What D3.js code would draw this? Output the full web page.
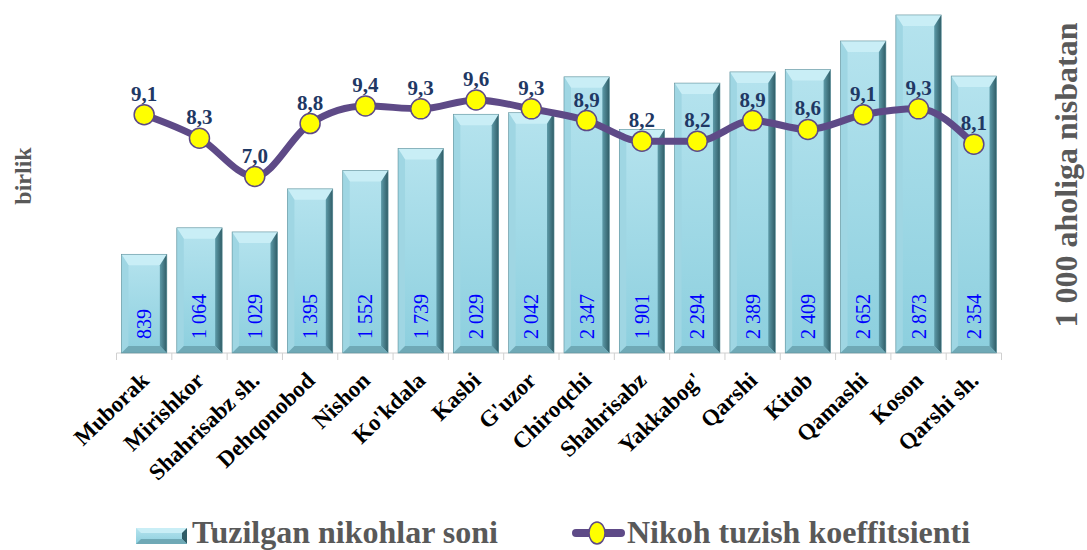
<!DOCTYPE html>
<html><head><meta charset="utf-8">
<script src="https://cdn.jsdelivr.net/npm/d3@7"></script>
<style>body{margin:0;background:#fff}svg{display:block}</style>
</head><body><svg id="c" width="1087" height="550" style="font-family:'Liberation Serif'"></svg>
<script>
const categories=["Muborak","Mirishkor","Shahrisabz sh.","Dehqonobod","Nishon","Ko'kdala","Kasbi","G'uzor","Chiroqchi","Shahrisabz","Yakkabog'","Qarshi","Kitob","Qamashi","Koson","Qarshi sh."];
const marriages=[839,1064,1029,1395,1552,1739,2029,2042,2347,1901,2294,2389,2409,2652,2873,2354];
const coefficient=[9.1,8.3,7.0,8.8,9.4,9.3,9.6,9.3,8.9,8.2,8.2,8.9,8.6,9.1,9.3,8.1];
const seriesNames=["Tuzilgan nikohlar soni","Nikoh tuzish koeffitsienti"];
const leftTitle="birlik", rightTitle="1 000 aholiga nisbatan";

const FONT="'Liberation Serif'";
const svg=d3.select("#c");
const defs=svg.append("defs");
const plotTop=0,base=353,left=116.5,right=1001.5;
const x=d3.scaleBand().domain(categories).range([left,right]).paddingInner(0.18).paddingOuter(0.09);
const y=d3.scaleLinear().domain([0,3000]).range([base,plotTop]);
const y2=d3.scaleLinear().domain([1,13]).range([base,plotTop]);
const fmt=v=>d3.format(",")(v).replace(/,/g," ");

const g=defs.append("linearGradient").attr("id","face").attr("x1",0).attr("x2",0).attr("y1",0).attr("y2",1);
g.append("stop").attr("offset",0).attr("stop-color","#b5e3ee");
g.append("stop").attr("offset",1).attr("stop-color","#8ccfde");
const gr=defs.append("linearGradient").attr("id","rside").attr("x1",0).attr("x2",1);
gr.append("stop").attr("offset",0).attr("stop-color","#5d9aa8");
gr.append("stop").attr("offset",1).attr("stop-color","#2f5c66");

const ax=svg.append("g");
ax.append("line").attr("x1",left).attr("x2",right).attr("y1",base).attr("y2",base).attr("stroke","#d0d0d0");
const bounds=d3.range(categories.length+1).map(i=>left+i*(right-left)/categories.length);
ax.selectAll("line.t").data(bounds).join("line").attr("x1",d=>d).attr("x2",d=>d).attr("y1",base).attr("y2",base+7).attr("stroke","#d0d0d0");

const bw=x.bandwidth(), bv=7;
const bars=svg.append("g").selectAll("g").data(categories).join("g");
bars.each(function(c,i){
  const s=d3.select(this);
  const x0=x(c), x1=x0+bw, y0=y(marriages[i]), y1=base;
  s.append("rect").attr("x",x0).attr("y",y0).attr("width",bw).attr("height",y1-y0).attr("fill","url(#face)");
  s.append("path").attr("d",`M${x0},${y0}L${x1},${y0}L${x1-bv},${y0+bv+4}L${x0+bv},${y0+bv+4}Z`).attr("fill","#c9eef6");
  s.append("path").attr("d",`M${x0},${y0}L${x0+bv},${y0+bv+4}L${x0+bv},${y1-bv}L${x0},${y1}Z`).attr("fill","#9fd6e3");
  s.append("path").attr("d",`M${x1},${y0}L${x1-bv},${y0+bv+4}L${x1-bv},${y1-bv}L${x1},${y1}Z`).attr("fill","url(#rside)");
  s.append("path").attr("d",`M${x0},${y1}L${x0+bv},${y1-bv}L${x1-bv},${y1-bv}L${x1},${y1}Z`).attr("fill","#6fa9b6");
  s.append("rect").attr("x",x0).attr("y",y0).attr("width",bw).attr("height",y1-y0).attr("fill","none").attr("stroke","#5f8f99").attr("stroke-width",0.6);
  s.append("text").attr("transform",`translate(${x0+bw/2+7},${base-14}) rotate(-90)`).style("font-family",FONT).attr("font-size",20).attr("fill","#0000ff").text(fmt(marriages[i]));
});

const line=d3.line().x((d,i)=>x(categories[i])+bw/2).y(d=>y2(d)).curve(d3.curveMonotoneX);
svg.append("path").datum(coefficient).attr("d",line).attr("fill","none").attr("stroke","#5e4a87").attr("stroke-width",7).attr("stroke-linejoin","round");
svg.append("g").selectAll("circle").data(coefficient).join("circle").attr("cx",(d,i)=>x(categories[i])+bw/2).attr("cy",d=>y2(d)).attr("r",10).attr("fill","#ffff00").attr("stroke","#5e4a87").attr("stroke-width",1.5);
svg.append("g").selectAll("text").data(coefficient).join("text").attr("x",(d,i)=>x(categories[i])+bw/2).attr("y",d=>y2(d)-14).attr("text-anchor","middle").style("font-family",FONT).attr("font-size",21).attr("font-weight","bold").attr("fill","#1f3864").text(d=>d.toFixed(1).replace(".",","));

svg.append("g").selectAll("text").data(categories).join("text").attr("transform",c=>`translate(${x(c)+bw/2+6},${382}) rotate(-44)`).attr("text-anchor","end").style("font-family",FONT).attr("font-size",23).attr("font-weight","bold").attr("fill","#000").text(c=>c);

svg.append("text").attr("transform","translate(31,176) rotate(-90)").attr("text-anchor","middle").style("font-family",FONT).attr("font-size",24).attr("font-weight","bold").attr("fill","#595959").text(leftTitle);
svg.append("text").attr("transform","translate(1077,175) rotate(-90)").attr("text-anchor","middle").style("font-family",FONT).attr("font-size",32).attr("font-weight","bold").attr("fill","#595959").text(rightTitle);

const lg=svg.append("g");
const lx=136, ly=528, lw=51, lh=16, lb=5;
lg.append("rect").attr("x",lx).attr("y",ly).attr("width",lw).attr("height",lh).attr("fill","url(#face)");
lg.append("path").attr("d",`M${lx},${ly}L${lx+lw},${ly}L${lx+lw-lb},${ly+lb}L${lx+lb},${ly+lb}Z`).attr("fill","#c9eef6");
lg.append("path").attr("d",`M${lx+lw},${ly}L${lx+lw-lb},${ly+lb}L${lx+lw-lb},${ly+lh-lb}L${lx+lw},${ly+lh}Z`).attr("fill","#2f5c66");
lg.append("path").attr("d",`M${lx},${ly+lh}L${lx+lb},${ly+lh-lb}L${lx+lw-lb},${ly+lh-lb}L${lx+lw},${ly+lh}Z`).attr("fill","#6fa9b6");
lg.append("text").attr("x",192).attr("y",543).style("font-family",FONT).attr("font-size",32).attr("font-weight","bold").attr("fill","#595959").text(seriesNames[0]);
lg.append("line").attr("x1",576).attr("x2",621).attr("y1",533).attr("y2",533).attr("stroke","#5e4a87").attr("stroke-width",8).attr("stroke-linecap","round");
lg.append("ellipse").attr("cx",597).attr("cy",533).attr("rx",8).attr("ry",11).attr("fill","#ffff00").attr("stroke","#5e4a87").attr("stroke-width",1.5);
lg.append("text").attr("x",627).attr("y",543).style("font-family",FONT).attr("font-size",32).attr("font-weight","bold").attr("fill","#595959").text(seriesNames[1]);
</script></body></html>
